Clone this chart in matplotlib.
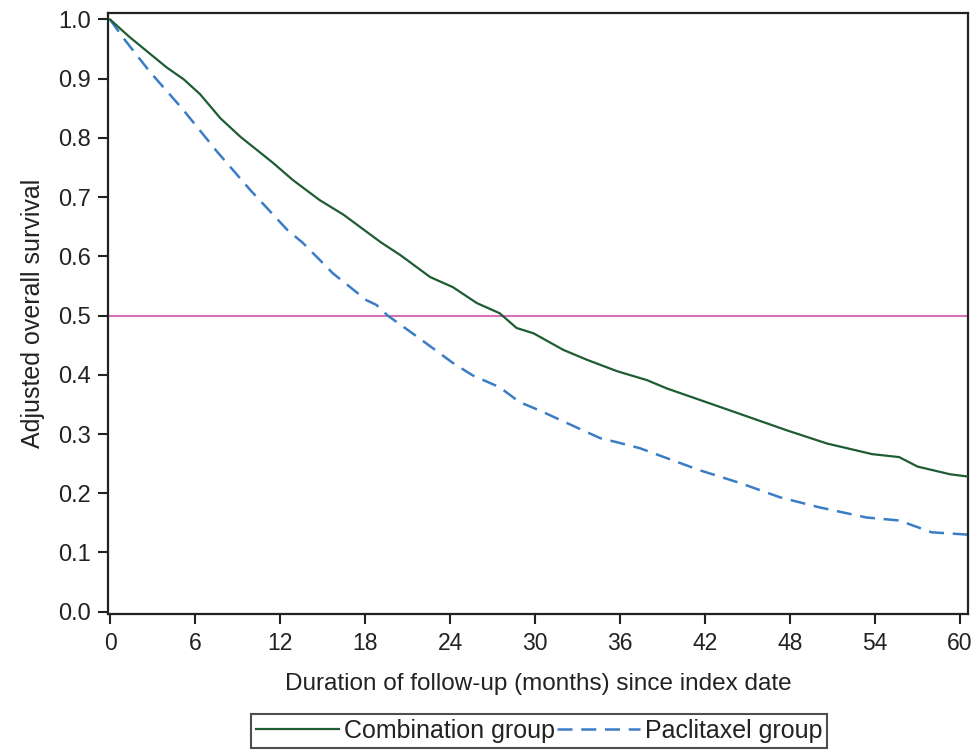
import matplotlib
matplotlib.use("Agg")
import matplotlib.pyplot as plt

# Combination group
comb_t = [0, 1.4, 4.0, 5.2, 6.35, 7.8, 9.2, 11.5, 12.9, 14.8, 16.5, 19.1, 20.5, 22.6, 24.2,
          25.9, 27.5, 28.7, 29.9, 32.0, 33.7, 35.8, 37.9, 39.3, 43.5, 47.8, 50.6, 53.8,
          55.7, 57.0, 59.3, 60.6]
comb_s = [1.0, 0.970, 0.919, 0.899, 0.874, 0.833, 0.802, 0.758, 0.729, 0.695, 0.670, 0.624,
          0.602, 0.565, 0.548, 0.521, 0.504, 0.479, 0.470, 0.442, 0.425, 0.406, 0.391, 0.377,
          0.342, 0.306, 0.284, 0.266, 0.261, 0.245, 0.232, 0.228]

# Paclitaxel group
pacl_t = [0, 0.9, 2.8, 5.15, 7.55, 9.9, 12.5, 13.6, 15.3, 15.7, 18.1, 18.8, 19.6, 21.7, 24.2,
          25.6, 27.5, 28.9, 30.3, 33.4, 34.6, 35.8, 37.4, 41.6, 44.5, 47.3, 50.1, 53.4, 55.7,
          58.0, 60.6]
pacl_s = [1.0, 0.970, 0.912, 0.848, 0.777, 0.712, 0.645, 0.623, 0.582, 0.572, 0.526, 0.518,
          0.500, 0.464, 0.420, 0.399, 0.379, 0.354, 0.340, 0.306, 0.293, 0.286, 0.276, 0.239,
          0.217, 0.193, 0.176, 0.159, 0.154, 0.134, 0.130]

median_line = 0.5
x_ticks = list(range(0, 61, 6))
y_ticks = [i / 10 for i in range(11)]

plt.rcParams["font.family"] = ["Liberation Sans", "DejaVu Sans"]

fig = plt.figure(figsize=(9.75, 7.5), dpi=100)
ax = fig.add_axes([0.1108, 0.1813, 0.8820, 0.8014])

ax.axhline(median_line, color="#d870b8", lw=1.5, zorder=1)
ax.plot(comb_t, comb_s, color="#1e5c34", lw=1.6, label="Combination group", zorder=3)
ax.plot(pacl_t, pacl_s, color="#3a7dc6", lw=1.8, linestyle=(0, (6, 3.5)),
        label="Paclitaxel group", zorder=2)

ax.set_xlim(-0.14, 60.56)
ax.set_ylim(-0.004, 1.011)
ax.set_xticks(x_ticks)
ax.set_yticks(y_ticks)
ax.set_yticklabels([f"{v:.1f}" for v in y_ticks])

for sp in ax.spines.values():
    sp.set_linewidth(1.6)
    sp.set_color("#222222")
ax.tick_params(direction="out", length=7, width=1.5, color="#222222",
               labelcolor="#222222")
ax.tick_params(axis="x", labelsize=16.5, pad=6)
ax.tick_params(axis="y", labelsize=17, pad=5)

ax.set_xlabel("Duration of follow-up (months) since index date", fontsize=17.5,
              color="#222222", labelpad=13)
ax.set_ylabel("Adjusted overall survival", fontsize=18, color="#222222", labelpad=10)

leg = fig.legend(loc="center", bbox_to_anchor=(0.553, 0.0255), ncol=2, fontsize=18,
                 frameon=True, fancybox=False, borderpad=0.2, handlelength=3.3,
                 handletextpad=0.2, columnspacing=0.1, borderaxespad=0)
leg.get_frame().set_edgecolor("#222222")
leg.get_frame().set_linewidth(1.5)
for t in leg.get_texts():
    t.set_color("#222222")

fig.savefig("out.png", dpi=100)
